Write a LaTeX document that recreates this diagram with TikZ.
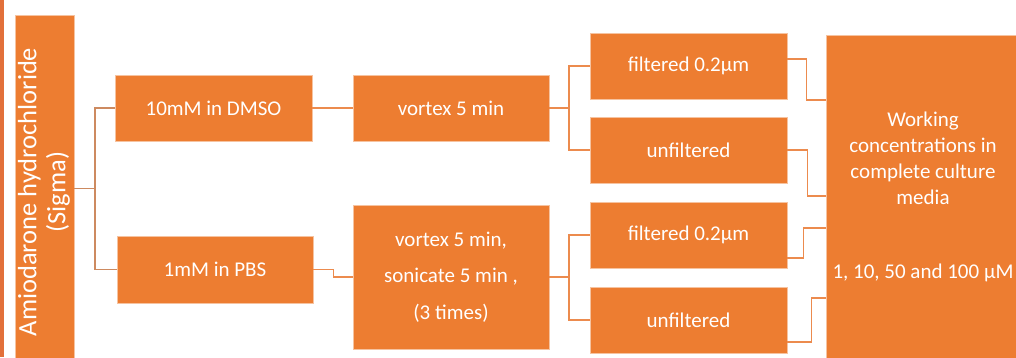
\documentclass[tikz,border=0pt]{standalone}
\usepackage{fontspec}
\setmainfont{Carlito}
\definecolor{boxor}{HTML}{ED7D31}
\definecolor{boxedge}{HTML}{F6C3A0}
\definecolor{connL}{HTML}{CD8A60}
\definecolor{connR}{HTML}{EC8B4E}
\definecolor{strip}{HTML}{E2703A}
\tikzset{
  obox/.style={rectangle, fill=boxor, draw=boxedge, line width=0.8pt, text=white, align=center, inner sep=0pt,
    font=\fontsize{21}{26}\selectfont},
  connl/.style={draw=connL, line width=1.8pt},
  connr/.style={draw=connR, line width=1.8pt},
}
\begin{document}
\begin{tikzpicture}[x=1pt,y=-1pt]
\useasboundingbox (0,0) rectangle (1016,357);
\fill[strip] (0,0) rectangle (4,357);
% boxes
\node[obox, minimum width=59pt, minimum height=346pt] (amio) at (44.5,188) {};
\node[rotate=90, text=white, align=center, font=\fontsize{26.5}{29}\selectfont] (amiotext) at (44,192) {Amiodarone hydrochloride\\(Sigma)};
\node[obox, minimum width=197pt, minimum height=66pt] (dmso) at (213.5,108) {10mM in DMSO};
\node[obox, minimum width=196pt, minimum height=67pt] (pbs) at (215,269.5) {1mM in PBS};
\node[obox, minimum width=196pt, minimum height=66pt] (vort1) at (451,108) {vortex 5 min};
\node[obox, minimum width=196pt, minimum height=144pt, font=\fontsize{21}{36.5}\selectfont] (vort2) at (451,277) {vortex 5 min,\\sonicate 5 min ,\\(3 times)};
\node[obox, minimum width=197pt, minimum height=66pt] (f1) at (688.5,66) {filtered 0.2µm};
\node[obox, minimum width=197pt, minimum height=66pt] (u1) at (688.5,150) {unfiltered};
\node[obox, minimum width=197pt, minimum height=66pt] (f2) at (688.5,235) {filtered 0.2µm};
\node[obox, minimum width=197pt, minimum height=66pt] (u2) at (688.5,320) {unfiltered};
\node[obox, minimum width=196pt, minimum height=326pt] (work) at (924,198) {};
\node[text=white, align=center, font=\fontsize{21}{26}\selectfont] (worktext) at (923,197) {Working\\concentrations in\\complete culture\\media\\[48pt]1, 10, 50 and 100 µM};
% connectors
\coordinate (jA) at (95,188.5);
\coordinate (j1) at (569,108);
\coordinate (j2) at (569,277);
\draw[connl] (amio.east |- jA) -- (jA) |- (dmso.west);
\draw[connl] (jA) |- (pbs.west);
\draw[connr] (dmso.east) -- (vort1.west);
\draw[connr] (pbs.east) -- ++(20,0) |- (vort2.west);
\draw[connr] (vort1.east) -- (j1) |- (f1.west);
\draw[connr] (j1) |- (u1.west);
\draw[connr] (vort2.east) -- (j2) |- (f2.west);
\draw[connr] (j2) |- (u2.west);
\draw[connr] ([yshift=7pt]f1.east) -- ++(19,0) |- (work.west |- 0,100);
\draw[connr] (u1.east) -- ++(20,0) |- (work.west |- 0,196);
\draw[connr] ([yshift=-23pt]f2.east) -- ++(16,0) |- (work.west |- 0,228);
\draw[connr] ([yshift=-22pt]u2.east) -- ++(24,0) |- (work.west |- 0,298);
\end{tikzpicture}
\end{document}
